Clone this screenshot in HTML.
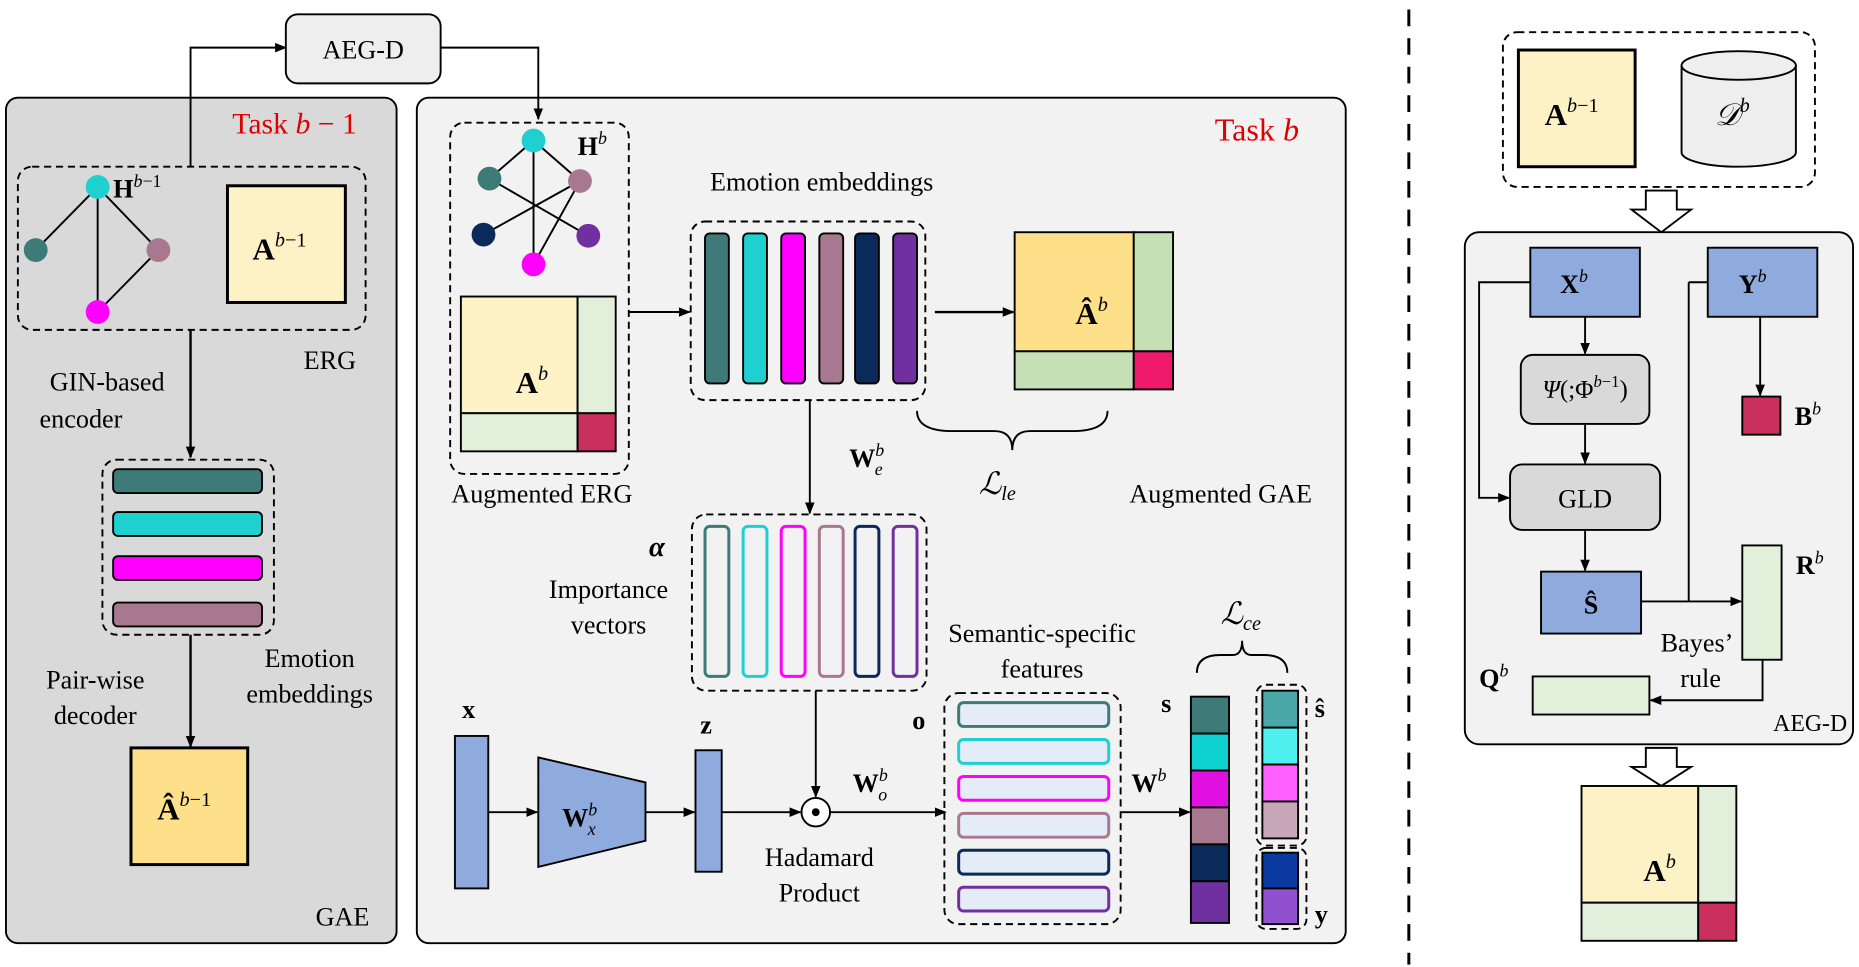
<!DOCTYPE html>
<html><head><meta charset="utf-8"><style>
html,body{margin:0;padding:0;background:#fff;}
svg{display:block;}
text{font-family:"Liberation Serif",serif;fill:#000;}
.b{font-weight:bold;}
</style></head><body>
<svg width="1859" height="967" viewBox="0 0 1561 812" preserveAspectRatio="none" xmlns="http://www.w3.org/2000/svg">
<defs>
<marker id="ar" markerWidth="10" markerHeight="10" refX="9" refY="5" orient="auto" markerUnits="userSpaceOnUse"><path d="M0,1 L10,5 L0,9 z" fill="#000"/></marker>
</defs>
<g stroke="#000" stroke-width="1.6" fill="none">
<rect x="5" y="82" width="328" height="710" rx="10" fill="#d9d9d9"/>
<rect x="350" y="82" width="780" height="710" rx="10" fill="#f2f2f2"/>
<rect x="240" y="12" width="130" height="58" rx="10" fill="#eeeeee"/>
<polyline points="160,140 160,40 240,40" marker-end="url(#ar)"/>
<polyline points="370,40 452,40 452,100" marker-end="url(#ar)"/>
<rect x="15" y="140" width="292" height="137" rx="12" stroke-dasharray="6,4"/>
<line x1="82" y1="157" x2="30" y2="210"/><line x1="82" y1="157" x2="82" y2="262"/><line x1="82" y1="157" x2="133" y2="210"/><line x1="133" y1="210" x2="82" y2="262"/>
<rect x="191" y="156" width="99" height="98" fill="#fdf1c6" stroke-width="2.5"/>
<line x1="160" y1="277" x2="160" y2="384" marker-end="url(#ar)" stroke-width="2"/>
<rect x="86" y="386" width="144" height="147" rx="12" stroke-dasharray="6,4"/>
<rect x="95" y="394" width="125" height="20" rx="4" fill="#3e7a78"/>
<rect x="95" y="430" width="125" height="20" rx="4" fill="#1fd0d0"/>
<rect x="95" y="467" width="125" height="20" rx="4" fill="#ff00ff"/>
<rect x="95" y="506" width="125" height="20" rx="4" fill="#a87890"/>
<line x1="160" y1="533" x2="160" y2="627" marker-end="url(#ar)" stroke-width="2"/>
<rect x="110" y="628" width="98" height="98" fill="#ffe08a" stroke-width="2.5"/>
<rect x="378" y="103" width="150" height="295" rx="12" stroke-dasharray="6,4"/>
<line x1="448" y1="118" x2="411" y2="150"/><line x1="448" y1="118" x2="448" y2="222"/><line x1="411" y1="150" x2="494" y2="198"/><line x1="487" y1="152" x2="406" y2="197"/><line x1="487" y1="152" x2="448" y2="222"/><line x1="448" y1="118" x2="487" y2="152"/>
<rect x="387" y="249" width="98" height="98" fill="#fdf1c6"/>
<rect x="485" y="249" width="32" height="98" fill="#e2efda"/>
<rect x="387" y="347" width="98" height="32" fill="#e2efda"/>
<rect x="485" y="347" width="32" height="32" fill="#c9305e"/>
<line x1="528" y1="262" x2="579" y2="262" marker-end="url(#ar)"/>
<rect x="580" y="186" width="197" height="150" rx="12" stroke-dasharray="6,4"/>
<rect x="592" y="196" width="20" height="126" rx="4" fill="#3e7a78"/>
<rect x="624" y="196" width="20" height="126" rx="4" fill="#1fd0d0"/>
<rect x="656" y="196" width="20" height="126" rx="4" fill="#ff00ff"/>
<rect x="688" y="196" width="20" height="126" rx="4" fill="#a87890"/>
<rect x="718" y="196" width="20" height="126" rx="4" fill="#0a2a5a"/>
<rect x="750" y="196" width="20" height="126" rx="4" fill="#7030a0"/>
<line x1="785" y1="262" x2="851" y2="262" marker-end="url(#ar)" stroke-width="2"/>
<rect x="852" y="195" width="100" height="100" fill="#ffe08a"/>
<rect x="952" y="195" width="33" height="100" fill="#c5e0b4"/>
<rect x="852" y="295" width="100" height="32" fill="#c5e0b4"/>
<rect x="952" y="295" width="33" height="32" fill="#ef1a6b"/>
<path d="M770,345 Q770,362 800,362 L835,362 Q850,362 850,378 Q850,362 865,362 L900,362 Q930,362 930,345"/>
<line x1="680" y1="336" x2="680" y2="431" marker-end="url(#ar)"/>
<rect x="581" y="432" width="197" height="148" rx="12" stroke-dasharray="6,4"/>
<rect x="592" y="442" width="20" height="126" rx="4" stroke="#3e7a78" stroke-width="2.5"/>
<rect x="624" y="442" width="20" height="126" rx="4" stroke="#1fd0d0" stroke-width="2.5"/>
<rect x="656" y="442" width="20" height="126" rx="4" stroke="#ff00ff" stroke-width="2.5"/>
<rect x="688" y="442" width="20" height="126" rx="4" stroke="#a87890" stroke-width="2.5"/>
<rect x="718" y="442" width="20" height="126" rx="4" stroke="#0a2a5a" stroke-width="2.5"/>
<rect x="750" y="442" width="20" height="126" rx="4" stroke="#7030a0" stroke-width="2.5"/>
<line x1="685" y1="580" x2="685" y2="669" marker-end="url(#ar)"/>
<circle cx="685" cy="682" r="12" fill="#fff"/>
<circle cx="685" cy="682" r="2.5" fill="#000"/>
<rect x="382" y="618" width="28" height="128" fill="#8faadc"/>
<line x1="410" y1="682" x2="451" y2="682" marker-end="url(#ar)"/>
<polygon points="452,636 542,657 542,706 452,728" fill="#8faadc"/>
<line x1="542" y1="682" x2="583" y2="682" marker-end="url(#ar)"/>
<rect x="584" y="630" width="22" height="102" fill="#8faadc"/>
<line x1="606" y1="682" x2="672" y2="682" marker-end="url(#ar)"/>
<line x1="697" y1="682" x2="794" y2="682" marker-end="url(#ar)"/>
<rect x="793" y="582" width="148" height="194" rx="12" stroke-dasharray="6,4"/>
<rect x="805" y="590" width="126" height="20" rx="4" fill="#e4ecf7" stroke="#3e7a78" stroke-width="2.5"/>
<rect x="805" y="621" width="126" height="20" rx="4" fill="#e4ecf7" stroke="#1fd0d0" stroke-width="2.5"/>
<rect x="805" y="652" width="126" height="20" rx="4" fill="#e4ecf7" stroke="#ff00ff" stroke-width="2.5"/>
<rect x="805" y="683" width="126" height="20" rx="4" fill="#e4ecf7" stroke="#a87890" stroke-width="2.5"/>
<rect x="805" y="714" width="126" height="20" rx="4" fill="#e4ecf7" stroke="#0a2a5a" stroke-width="2.5"/>
<rect x="805" y="745" width="126" height="20" rx="4" fill="#e4ecf7" stroke="#7030a0" stroke-width="2.5"/>
<line x1="941" y1="682" x2="999" y2="682" marker-end="url(#ar)"/>
<rect x="1000" y="585" width="32" height="31" fill="#3e7a78"/>
<rect x="1000" y="616" width="32" height="31" fill="#0dd0d0"/>
<rect x="1000" y="647" width="32" height="31" fill="#e010e0"/>
<rect x="1000" y="678" width="32" height="31" fill="#a87890"/>
<rect x="1000" y="709" width="32" height="31" fill="#0a2a5a"/>
<rect x="1000" y="740" width="32" height="35" fill="#7030a0"/>
<rect x="1055" y="575" width="42" height="135" rx="8" stroke-dasharray="6,4"/>
<rect x="1060" y="580" width="30" height="31" fill="#4aa8a8"/>
<rect x="1060" y="611" width="30" height="31" fill="#4ff0f0"/>
<rect x="1060" y="642" width="30" height="31" fill="#ff60ff"/>
<rect x="1060" y="673" width="30" height="31" fill="#c8a8b8"/>
<rect x="1055" y="712" width="42" height="68" rx="8" stroke-dasharray="6,4"/>
<rect x="1060" y="716" width="30" height="30" fill="#0a3aa0"/>
<rect x="1060" y="746" width="30" height="30" fill="#9050d0"/>
<path d="M1005,565 Q1005,550 1025,550 L1035,550 Q1043,550 1043,538 Q1043,550 1051,550 L1061,550 Q1081,550 1081,565"/>
<line x1="1183" y1="8" x2="1183" y2="810" stroke-width="2.5" stroke-dasharray="14,10"/>
<rect x="1262" y="27" width="262" height="130" rx="12" stroke-dasharray="6,4"/>
<rect x="1275" y="42" width="98" height="98" fill="#fdf1c6" stroke-width="2.5"/>
<path d="M1412,55 L1412,128 A48,12 0 0 0 1508,128 L1508,55" fill="#eeeeee"/>
<ellipse cx="1460" cy="55" rx="48" ry="12" fill="#eeeeee"/>
<polygon points="1382,160 1408,160 1408,176 1420,176 1395,195 1370,176 1382,176" fill="#fff"/>
<rect x="1230" y="195" width="326" height="430" rx="12" fill="#f2f2f2"/>
<rect x="1285" y="208" width="92" height="58" fill="#8faadc"/>
<rect x="1434" y="208" width="92" height="58" fill="#8faadc"/>
<line x1="1331" y1="266" x2="1331" y2="297" marker-end="url(#ar)"/>
<rect x="1277" y="298" width="108" height="58" rx="10" fill="#d9d9d9"/>
<line x1="1331" y1="356" x2="1331" y2="389" marker-end="url(#ar)"/>
<rect x="1268" y="390" width="126" height="55" rx="10" fill="#d9d9d9"/>
<polyline points="1285,237 1242,237 1242,418 1267,418" marker-end="url(#ar)"/>
<line x1="1331" y1="445" x2="1331" y2="479" marker-end="url(#ar)"/>
<rect x="1294" y="480" width="84" height="52" fill="#8faadc"/>
<line x1="1478" y1="266" x2="1478" y2="332" marker-end="url(#ar)"/>
<rect x="1463" y="333" width="32" height="32" fill="#c9305e"/>
<line x1="1418" y1="237" x2="1434" y2="237"/>
<line x1="1418" y1="237" x2="1418" y2="505"/>
<line x1="1378" y1="505" x2="1462" y2="505" marker-end="url(#ar)"/>
<rect x="1463" y="458" width="33" height="96" fill="#e2efda"/>
<polyline points="1480,554 1480,588 1386,588" marker-end="url(#ar)"/>
<rect x="1287" y="568" width="98" height="32" fill="#e2efda"/>
<polygon points="1382,628 1408,628 1408,644 1420,644 1395,660 1370,644 1382,644" fill="#fff"/>
<rect x="1328" y="660" width="98" height="98" fill="#fdf1c6"/>
<rect x="1426" y="660" width="32" height="98" fill="#e2efda"/>
<rect x="1328" y="758" width="98" height="32" fill="#e2efda"/>
<rect x="1426" y="758" width="32" height="32" fill="#c9305e"/>
</g>
<g stroke="none">
<circle cx="82" cy="157" r="10" fill="#1fd0d0"/><circle cx="30" cy="210" r="10" fill="#3e7a78"/><circle cx="133" cy="210" r="10" fill="#a87890"/><circle cx="82" cy="262" r="10" fill="#ff00ff"/>
<circle cx="448" cy="118" r="10" fill="#1fd0d0"/><circle cx="411" cy="150" r="10" fill="#3e7a78"/><circle cx="487" cy="152" r="10" fill="#a87890"/><circle cx="406" cy="197" r="10" fill="#0a2a5a"/><circle cx="494" cy="198" r="10" fill="#7030a0"/><circle cx="448" cy="222" r="10" fill="#ff00ff"/>
</g>
<g font-size="22">
<text x="305" y="49" text-anchor="middle">AEG-D</text>
<text x="195" y="112" style="fill:#e00000" font-size="25">Task <tspan font-style="italic">b</tspan> − 1</text>
<text x="1020" y="118" style="fill:#e00000" font-size="27">Task <tspan font-style="italic">b</tspan></text>
<text x="95" y="166" class="b" font-size="22">H<tspan font-size="15" dy="-9" font-style="italic" font-weight="normal">b</tspan><tspan font-size="15" font-weight="normal">−1</tspan></text>
<text x="212" y="218" class="b" font-size="26">A<tspan font-size="17" dy="-11" font-style="italic" font-weight="normal">b</tspan><tspan font-size="17" font-weight="normal">−1</tspan></text>
<text x="255" y="310">ERG</text>
<text x="90" y="328" text-anchor="middle">GIN-based</text>
<text x="68" y="359" text-anchor="middle">encoder</text>
<text x="80" y="578" text-anchor="middle">Pair-wise</text>
<text x="80" y="608" text-anchor="middle">decoder</text>
<text x="260" y="560" text-anchor="middle">Emotion</text>
<text x="260" y="590" text-anchor="middle">embeddings</text>
<text x="132" y="688" class="b" font-size="26">Â<tspan font-size="17" dy="-11" font-style="italic" font-weight="normal">b</tspan><tspan font-size="17" font-weight="normal">−1</tspan></text>
<text x="265" y="777">GAE</text>
<text x="485" y="130" class="b">H<tspan font-size="15" dy="-9" font-style="italic" font-weight="normal">b</tspan></text>
<text x="433" y="330" class="b" font-size="26">A<tspan font-size="17" dy="-11" font-style="italic" font-weight="normal">b</tspan></text>
<text x="455" y="422" text-anchor="middle">Augmented ERG</text>
<text x="690" y="160" text-anchor="middle">Emotion embeddings</text>
<text x="903" y="272" class="b" font-size="26">Â<tspan font-size="17" dy="-11" font-style="italic" font-weight="normal">b</tspan></text>
<text x="822" y="415" font-size="26" font-style="italic">ℒ<tspan font-size="17" dy="5">le</tspan></text>
<text x="1025" y="422" text-anchor="middle">Augmented  GAE</text>
<text x="713" y="392" class="b">W<tspan font-size="15" dy="-9" font-style="italic" font-weight="normal">b</tspan><tspan font-size="15" dx="-8" dy="16" font-style="italic" font-weight="normal">e</tspan></text>
<text x="545" y="467" class="b" font-style="italic" font-size="24">α</text>
<text x="511" y="502" text-anchor="middle">Importance</text>
<text x="511" y="532" text-anchor="middle">vectors</text>
<text x="388" y="603" class="b">x</text>
<text x="472" y="694" class="b">W<tspan font-size="15" dy="-9" font-style="italic" font-weight="normal">b</tspan><tspan font-size="15" dx="-8" dy="16" font-style="italic" font-weight="normal">x</tspan></text>
<text x="588" y="616" class="b">z</text>
<text x="688" y="727" text-anchor="middle">Hadamard</text>
<text x="688" y="757" text-anchor="middle">Product</text>
<text x="716" y="665" class="b">W<tspan font-size="15" dy="-9" font-style="italic" font-weight="normal">b</tspan><tspan font-size="15" dx="-8" dy="16" font-style="italic" font-weight="normal">o</tspan></text>
<text x="875" y="539" text-anchor="middle">Semantic-specific</text>
<text x="875" y="569" text-anchor="middle">features</text>
<text x="766" y="612" class="b">o</text>
<text x="950" y="665" class="b">W<tspan font-size="15" dy="-9" font-style="italic" font-weight="normal">b</tspan></text>
<text x="975" y="598" class="b">s</text>
<text x="1104" y="602" class="b">ŝ</text>
<text x="1104" y="775" class="b">y</text>
<text x="1025" y="524" font-size="26" font-style="italic">ℒ<tspan font-size="17" dy="5">ce</tspan></text>
<text x="1297" y="105" class="b" font-size="26">A<tspan font-size="17" dy="-11" font-style="italic" font-weight="normal">b</tspan><tspan font-size="17" font-weight="normal">−1</tspan></text>
<text x="1440" y="105" font-size="26" font-style="italic">𝒟<tspan font-size="17" dy="-11">b</tspan></text>
<text x="1310" y="246" class="b">X<tspan font-size="15" dy="-9" font-style="italic" font-weight="normal">b</tspan></text>
<text x="1460" y="246" class="b">Y<tspan font-size="15" dy="-9" font-style="italic" font-weight="normal">b</tspan></text>
<text x="1331" y="334" text-anchor="middle" font-size="21"><tspan font-style="italic">Ψ</tspan>(;Φ<tspan font-size="14" dy="-9" font-style="italic">b</tspan><tspan font-size="14">−1</tspan><tspan dy="9">)</tspan></text>
<text x="1331" y="426" text-anchor="middle">GLD</text>
<text x="1336" y="515" text-anchor="middle" class="b">Ŝ</text>
<text x="1507" y="357" class="b">B<tspan font-size="15" dy="-9" font-style="italic" font-weight="normal">b</tspan></text>
<text x="1508" y="482" class="b">R<tspan font-size="15" dy="-9" font-style="italic" font-weight="normal">b</tspan></text>
<text x="1425" y="547" text-anchor="middle">Bayes’</text>
<text x="1428" y="577" text-anchor="middle">rule</text>
<text x="1242" y="577" class="b">Q<tspan font-size="15" dy="-9" font-style="italic" font-weight="normal">b</tspan></text>
<text x="1520" y="614" text-anchor="middle" font-size="20">AEG-D</text>
<text x="1380" y="740" class="b" font-size="26">A<tspan font-size="17" dy="-11" font-style="italic" font-weight="normal">b</tspan></text>
</g>
</svg>
</body></html>
